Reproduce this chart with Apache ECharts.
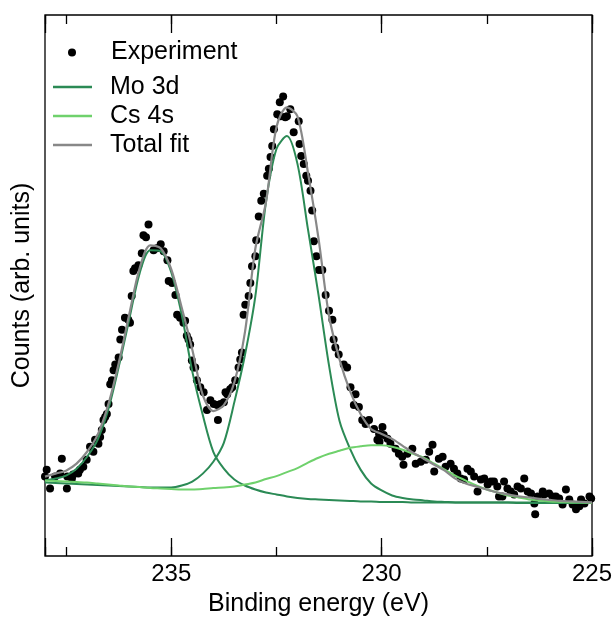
<!DOCTYPE html>
<html>
<head>
<meta charset="utf-8">
<script src="https://cdn.jsdelivr.net/npm/echarts@6/dist/echarts.min.js"></script>
<style>html,body{margin:0;padding:0;background:#fff}#chart{width:616px;height:622px}</style>
</head>
<body>
<div id="chart"></div>
<script>
// Binding energy grid for the fitted curves (eV)
const energyGrid = [238,237.75,237.5,237.25,237,236.75,236.5,236.25,236,235.75,235.5,235.25,235,234.75,234.5,234.25,234,233.75,233.5,233.25,233,232.75,232.5,232.25,232,231.75,231.5,231.25,231,230.75,230.5,230.25,230,229.75,229.5,229.25,229,228.75,228.5,228.25,228,227.75,227.5,227.25,227,226.75,226.5,226.25,226,225.75,225.5,225.25,225];

// Mo 3d components (3d3/2 and 3d5/2), arb. units
const mo3dHigh = [76,78,81,88,100,117,147,190,238,285,308,307,286,243,186,142,105,88,77,71,67,64,62,60,58.5,57.5,57,56.5,56,55.5,55,55,54.5,54.5,54.5,54,54,54,54,54,54,54,54,54,54,53.5,53.5,53.5,53.5,53.5,53.5,53.5,53.5];
const mo3dLow = [74,73.5,73,72.5,72,71.5,71,70.5,70,69.5,69,69,69,71,75,83,95,114,155,202,262,356,410,423,395,329,263,192,136,108,87,73,66,61,58.5,57,56,55,54.5,54,54,54,54,54,54,54,54,54,54,54,53.5,53.5,53.5];
// Cs 4s component
const cs4s = [76,75.5,75,74.5,74,73,72,71,70,69.5,68.5,68,67.5,67,67,67.5,68.5,69,70,72,74,77.5,80.5,84.5,88.5,94,99,103,106,109,110.5,111.5,111.5,110,107,103,99,93,87,81,76,71,67,64,61,59,57,56,55,54.5,54,54,53.5];
// Total fit
const totalFit = [80,83,86,93,105,122,152,194,243,290,313,310,289,250,208,162,146,152,175,225,310,356,432,452,443,386,320,242,198,166,143,128,123,118,111,104,98,92,86,78,73,70,67,64,62,60,59,57.5,56.5,55.5,55,54.5,54];

// Experimental points: binding energy (eV) and counts (arb. units)
const expEnergy = [238.00,237.96,237.88,237.76,237.64,237.60,237.48,237.47,237.36,237.33,237.21,237.17,237.09,237.01,236.93,236.85,236.81,236.73,236.69,236.65,236.61,236.57,236.53,236.49,236.45,236.41,236.37,236.33,236.25,236.21,236.17,236.10,236.02,235.98,235.94,235.90,235.86,235.78,235.70,235.66,235.60,235.54,235.42,235.34,235.25,235.18,235.09,235.06,234.98,234.90,234.86,234.79,234.71,234.67,234.63,234.59,234.55,234.51,234.47,234.43,234.39,234.31,234.23,234.15,234.07,233.99,233.91,233.89,233.83,233.75,233.71,233.67,233.60,233.55,233.48,233.40,233.36,233.32,233.28,233.24,233.16,233.12,233.08,233.00,232.98,232.92,232.86,232.80,232.72,232.68,232.64,232.60,232.56,232.48,232.42,232.40,232.34,232.29,232.25,232.17,232.09,231.97,231.95,231.91,231.85,231.79,231.75,231.69,231.65,231.61,231.55,231.49,231.41,231.33,231.25,231.17,231.14,231.10,231.02,230.90,230.82,230.74,230.66,230.62,230.54,230.46,230.38,230.30,230.18,230.10,230.06,230.05,229.98,229.95,229.86,229.79,229.67,229.59,229.51,229.48,229.39,229.27,229.19,229.07,228.95,228.87,228.79,228.75,228.64,228.55,228.48,228.36,228.28,228.20,228.12,228.04,227.96,227.88,227.80,227.72,227.64,227.56,227.48,227.40,227.33,227.25,227.21,227.13,227.09,227.01,226.93,226.85,226.77,226.69,226.61,226.53,226.45,226.37,226.35,226.29,226.17,226.14,226.02,225.94,225.86,225.78,225.70,225.62,225.54,225.46,225.38,225.30,225.26,225.18,225.06,225.02];
const expCounts = [80,87,68,80,83,98,68,80,78,82,83,87,90,97,110,105,117,113,120,127,137,140,143,153,173,177,187,193,200,218,228,240,238,235,262,287,290,293,305,323,321,334,308,310,314,307,298,277,275,263,243,240,235,237,222,218,213,197,190,190,177,170,165,147,157,153,152,137,153,155,165,163,168,170,177,190,198,205,243,253,262,275,292,302,318,342,358,365,383,390,402,413,430,445,457,443,463,442,443,450,427,438,415,403,395,383,378,368,348,317,302,288,288,263,247,238,218,210,203,193,190,170,152,163,150,137,133,137,128,117,123,115,130,122,118,113,108,103,100,92,103,108,93,95,97,105,112,85,98,100,90,93,88,83,78,77,88,85,80,65,77,78,72,75,75,70,60,60,75,68,65,62,70,68,78,65,63,53,42,60,65,62,63,60,60,58,52,67,57,52,47,50,57,53,60,58];

// Axis ticks
const majorTicks = [235, 230, 225];
const xMin = 225, xMax = 238;

const expData = expEnergy.map((e, i) => [e, expCounts[i]]);
const pair = arr => energyGrid.map((e, i) => [e, arr[i]]);

const C_MO = '#2b8a55', C_CS = '#6fd16c', C_TOT = '#888888';
const FONT = 'Liberation Sans';

const baseX = {
  type: 'value', min: xMin, max: xMax, inverse: true,
  splitLine: { show: false }, axisLine: { show: false }
};

const chart = echarts.init(document.getElementById('chart'), null, { renderer: 'canvas' });
chart.setOption({
  animation: false,
  backgroundColor: '#fff',
  grid: { left: 45, right: 24, top: 15, bottom: 62, show: true, borderColor: '#000', borderWidth: 1.3, backgroundColor: 'transparent' },
  xAxis: [
    Object.assign({}, baseX, {
      position: 'bottom', interval: 5,
      axisTick: { show: true, inside: true, length: 18, lineStyle: { color: '#000', width: 1.3 } },
      axisLabel: { show: true, margin: 6, fontFamily: FONT, fontSize: 24, color: '#000',
        formatter: v => (majorTicks.indexOf(v) >= 0 ? String(v) : '') },
      name: 'Binding energy (eV)', nameLocation: 'middle', nameGap: 36,
      nameTextStyle: { fontFamily: FONT, fontSize: 25, color: '#000' }
    }),
    Object.assign({}, baseX, {
      position: 'bottom', interval: 2.5,
      axisTick: { show: true, inside: true, length: 9, lineStyle: { color: '#000', width: 1.3 } },
      axisLabel: { show: false }
    }),
    Object.assign({}, baseX, {
      position: 'top', interval: 5,
      axisTick: { show: true, inside: true, length: 18, lineStyle: { color: '#000', width: 1.3 } },
      axisLabel: { show: false }
    }),
    Object.assign({}, baseX, {
      position: 'top', interval: 2.5,
      axisTick: { show: true, inside: true, length: 9, lineStyle: { color: '#000', width: 1.3 } },
      axisLabel: { show: false }
    })
  ],
  yAxis: {
    type: 'value', min: 0, max: 545,
    axisLine: { show: false }, axisTick: { show: false }, axisLabel: { show: false }, splitLine: { show: false },
    name: 'Counts (arb. units)', nameLocation: 'middle', nameGap: 10,
    nameTextStyle: { fontFamily: FONT, fontSize: 25, color: '#000' }
  },
  legend: [
    {
      data: [{ name: 'Experiment', icon: 'circle' }],
      orient: 'vertical', left: 68, top: 38, padding: 0, itemWidth: 8, itemHeight: 8,
      textStyle: { fontFamily: FONT, fontSize: 25, color: '#000', lineHeight: 29, padding: [0, 0, 0, 30] }
    },
    {
      data: [{ name: 'Mo 3d', icon: 'rect' }, { name: 'Cs 4s', icon: 'rect' }, { name: 'Total fit', icon: 'rect' }],
      orient: 'vertical', left: 53, top: 73, padding: 0, itemWidth: 39, itemHeight: 2.5, itemGap: 1,
      textStyle: { fontFamily: FONT, fontSize: 25, color: '#000', lineHeight: 28, padding: [0, 0, 0, 13] }
    }
  ],
  series: [
    { name: 'Experiment', type: 'scatter', data: expData, symbolSize: 8,
      itemStyle: { color: '#000', opacity: 1 }, z: 2 },
    { name: 'Mo 3d', type: 'line', data: pair(mo3dHigh), showSymbol: false, symbol: 'none', smooth: 0.3,
      lineStyle: { color: C_MO, width: 2 }, itemStyle: { color: C_MO }, z: 3 },
    { name: 'Mo 3d', type: 'line', data: pair(mo3dLow), showSymbol: false, symbol: 'none', smooth: 0.3,
      lineStyle: { color: C_MO, width: 2 }, itemStyle: { color: C_MO }, z: 3 },
    { name: 'Cs 4s', type: 'line', data: pair(cs4s), showSymbol: false, symbol: 'none', smooth: 0.3,
      lineStyle: { color: C_CS, width: 2 }, itemStyle: { color: C_CS }, z: 3 },
    { name: 'Total fit', type: 'line', data: pair(totalFit), showSymbol: false, symbol: 'none', smooth: 0.3,
      lineStyle: { color: C_TOT, width: 2.2 }, itemStyle: { color: C_TOT }, z: 4 }
  ]
});
</script>
</body>
</html>
